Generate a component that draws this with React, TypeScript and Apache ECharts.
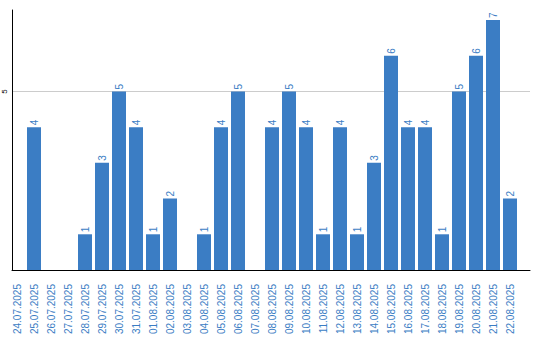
import React, { useEffect, useRef } from "react";
import * as echarts from "echarts";

const dates = [
  "24.07.2025", "25.07.2025", "26.07.2025", "27.07.2025", "28.07.2025",
  "29.07.2025", "30.07.2025", "31.07.2025", "01.08.2025", "02.08.2025",
  "03.08.2025", "04.08.2025", "05.08.2025", "06.08.2025", "07.08.2025",
  "08.08.2025", "09.08.2025", "10.08.2025", "11.08.2025", "12.08.2025",
  "13.08.2025", "14.08.2025", "15.08.2025", "16.08.2025", "17.08.2025",
  "18.08.2025", "19.08.2025", "20.08.2025", "21.08.2025", "22.08.2025",
];
const counts = [
  0, 4, 0, 0, 1, 3, 5, 4, 1, 2,
  0, 1, 4, 5, 0, 4, 5, 4, 1, 4,
  1, 3, 6, 4, 4, 1, 5, 6, 7, 2,
];
const yMax = 7.28;
const yTickInterval = 5;

const BLUE = "#3b7dc4";
const FONT = "Liberation Sans, Arial, sans-serif";

export default function App() {
  const ref = useRef<HTMLDivElement>(null);
  useEffect(() => {
    if (!ref.current) return;
    const chart = echarts.init(ref.current, null, { renderer: "svg" });
    chart.setOption({
      animation: false,
      backgroundColor: "#ffffff",
      grid: [
        { left: 8.5, width: 510, top: 10, bottom: 70, containLabel: false },
        { left: 10, right: 10, top: 10, bottom: 70, containLabel: false },
      ],
      xAxis: [
        {
          gridIndex: 0,
          type: "category",
          data: dates,
          boundaryGap: true,
          axisLine: { show: false },
          axisTick: { show: false },
          splitLine: { show: false },
          axisLabel: {
            rotate: 90,
            interval: 0,
            margin: 14,
            color: BLUE,
            fontSize: 10,
            fontFamily: FONT,
          },
        },
        {
          gridIndex: 1,
          type: "value",
          min: 0,
          max: 1,
          axisLine: { show: true, lineStyle: { color: "#000", width: 1 } },
          axisTick: { show: false },
          axisLabel: { show: false },
          splitLine: { show: false },
        },
      ],
      yAxis: [
        {
          gridIndex: 0,
          type: "value",
          min: 0,
          max: yMax,
          show: false,
          splitLine: { show: false },
        },
        {
          gridIndex: 1,
          type: "value",
          min: 0,
          max: yMax,
          interval: yTickInterval,
          axisLine: { show: true, lineStyle: { color: "#000", width: 1 } },
          axisTick: { show: false },
          splitLine: {
            show: true,
            showMaxLine: false,
            showMinLine: false,
            lineStyle: { color: "#cccccc", width: 1 },
          },
          axisLabel: {
            rotate: 90,
            margin: 4,
            fontSize: 8,
            color: "#000000",
            fontFamily: FONT,
            formatter: (v: number) => (v === 5 ? "5" : ""),
            showMaxLabel: false,
          },
        },
      ],
      series: [
        {
          type: "bar",
          xAxisIndex: 0,
          yAxisIndex: 0,
          data: counts,
          barWidth: 14,
          itemStyle: { color: BLUE },
          label: {
            show: true,
            position: "top",
            rotate: 90,
            align: "left",
            verticalAlign: "middle",
            distance: 2,
            color: BLUE,
            fontSize: 10,
            fontFamily: FONT,
            formatter: (p: any) => (p.value === 0 ? "" : String(p.value)),
          },
        },
      ],
    });
    return () => chart.dispose();
  }, []);
  return <div ref={ref} style={{ width: 540, height: 340, position: "absolute", left: 0, top: 0 }} />;
}
